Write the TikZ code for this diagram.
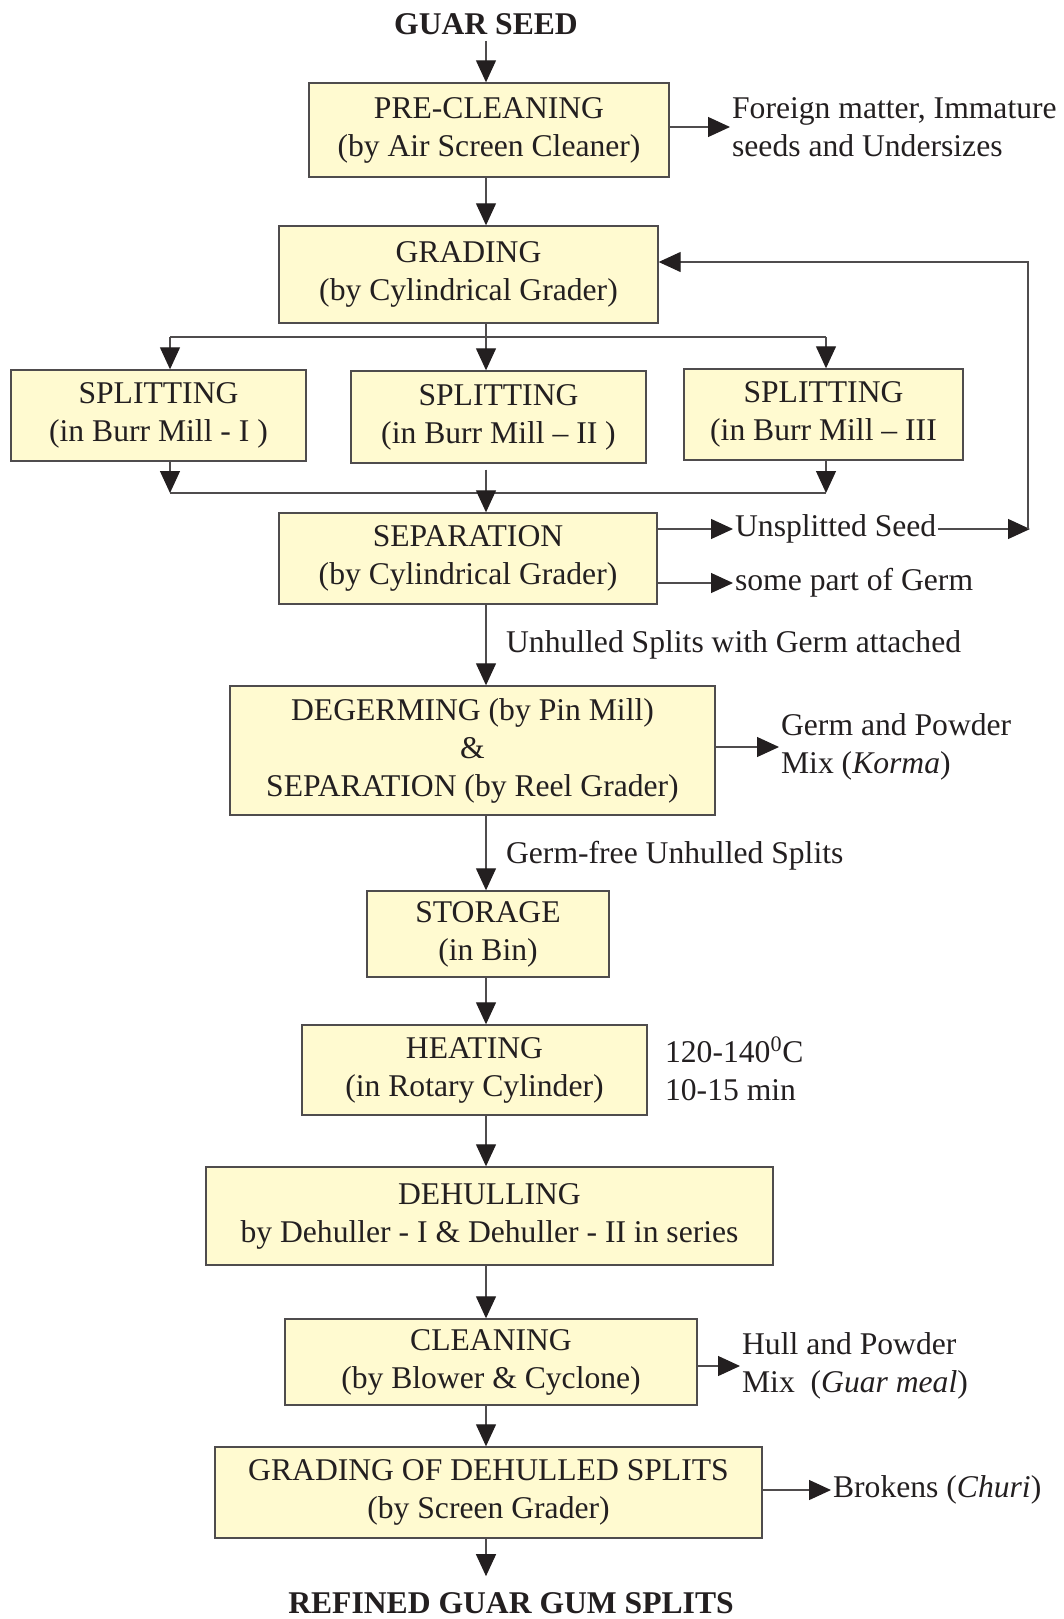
\documentclass[tikz,border=0pt]{standalone}
\usepackage{fontspec}
\setmainfont{Liberation Serif}
\usetikzlibrary{arrows.meta}
\definecolor{boxfill}{RGB}{255,250,208}
\definecolor{ink}{RGB}{35,31,32}

\begin{document}
\begin{tikzpicture}[x = 0.02cm, y = -0.02cm,
                    font = \fontsize{18}{21.6}\selectfont, text = ink,
                    stage/.style = {rectangle, draw = ink!80, line width = 0.8pt, fill = boxfill, align = center, inner sep = 0pt},
                    side/.style = {anchor = west, align = left, inner sep = 1pt},
                    ln/.style = {draw = ink!80, line width = 0.7pt},
                    arr/.style = {ln, -{Triangle[length = 0.44cm, width = 0.4cm, color = ink]}}]

\useasboundingbox (0,0) rectangle (1063,1619);

% main line
\coordinate (spine) at (486,0);
\coordinate (lft) at (170,0);
\coordinate (rgt) at (826,0);
\coordinate (fork) at (486,337);
\coordinate (join) at (486,493);

\node [font = \fontsize{18}{21.6}\selectfont\bfseries] (seed) at (486,24) {GUAR SEED};

\node [stage, minimum width = 7.2cm, minimum height = 1.88cm] (pre) at (489,130) {PRE-CLEANING\\(by Air Screen Cleaner)};
\node [stage, minimum width = 7.58cm, minimum height = 1.94cm] (grade) at (468.5,274.5) {GRADING\\(by Cylindrical Grader)};
\node [stage, minimum width = 5.9cm, minimum height = 1.82cm] (split1) at (158.5,415.5) {SPLITTING\\(in Burr Mill - I )};
\node [stage, minimum width = 5.9cm, minimum height = 1.84cm] (split2) at (498.5,417) {SPLITTING\\(in Burr Mill -- II )};
\node [stage, minimum width = 5.58cm, minimum height = 1.82cm] (split3) at (823.5,414.5) {SPLITTING\\(in Burr Mill -- III};
\node [stage, minimum width = 7.56cm, minimum height = 1.82cm] (sep) at (468,558.5) {SEPARATION\\(by Cylindrical Grader)};
\node [stage, minimum width = 9.7cm, minimum height = 2.58cm] (degerm) at (472.5,750.5) {DEGERMING (by Pin Mill)\\\&\\SEPARATION (by Reel Grader)};
\node [stage, minimum width = 4.84cm, minimum height = 1.72cm] (store) at (488,934) {STORAGE\\(in Bin)};
\node [stage, minimum width = 6.9cm, minimum height = 1.8cm] (heat) at (474.5,1070) {HEATING\\(in Rotary Cylinder)};
\node [stage, minimum width = 11.34cm, minimum height = 1.96cm] (dehull) at (489.5,1216) {DEHULLING\\by Dehuller - I \& Dehuller - II in series};
\node [stage, minimum width = 8.24cm, minimum height = 1.72cm] (clean) at (491,1362) {CLEANING\\(by Blower \& Cyclone)};
\node [stage, minimum width = 10.94cm, minimum height = 1.82cm] (gds) at (488.5,1492.5) {GRADING OF DEHULLED SPLITS\\(by Screen Grader)};

\node [font = \fontsize{18}{21.6}\selectfont\bfseries] (refined) at (511,1603) {REFINED GUAR GUM SPLITS};

% side streams
\node [side] (waste) at (730,127) {Foreign matter, Immature\\seeds and Undersizes};
\node [side] (unspl) at (733,529) {Unsplitted Seed};
\node [side] (germ) at (733,583) {some part of Germ};
\node [side] (korma) at (779,747) {Germ and Powder\\Mix (\textit{Korma})};
\node [side] (heatcond) at (663,1069) {120-140\textsuperscript{0}C\\10-15 min};
\node [side] (hull) at (740,1366) {Hull and Powder\\Mix\ \ (\textit{Guar meal})};
\node [side] (brokens) at (831,1490) {Brokens (\textit{Churi})};

% flow labels
\node [side] (unhulled) at (504,645) {Unhulled Splits with Germ attached};
\node [side] (germfree) at (504,856) {Germ-free Unhulled Splits};

\draw [arr] (seed.south) -- (pre.north -| spine);
\draw [arr] (pre.south -| spine) -- (grade.north -| spine);
\draw [arr] (pre.east |- waste.west) -- (waste.west);

% to the mills
\draw [ln] (grade.south -| spine) -- (fork);
\draw [ln] (lft |- fork) -- (rgt |- fork);
\draw [arr] (lft |- fork) -- (split1.north -| lft);
\draw [arr] (fork) -- (split2.north -| spine);
\draw [arr] (rgt |- fork) -- (split3.north -| rgt);

% from the mills
\draw [arr] (split1.south -| lft) -- (lft |- join);
\draw [arr] (split3.south -| rgt) -- (rgt |- join);
\draw [ln] (lft |- join) -- (rgt |- join);
\draw [arr] ([yshift = -0.12cm] split2.south -| spine) -- (sep.north -| spine);

% recycle
\coordinate (loop) at (1030,529);
\coordinate (looptop) at (1028,262);
\draw [arr] (sep.east |- unspl.west) -- (unspl.west);
\draw [arr] (unspl.east) -- (loop);
\draw [arr] (looptop |- loop) -- (looptop) -- (grade.east |- looptop);
\draw [arr] (sep.east |- germ.west) -- (germ.west);

\draw [arr] (sep.south -| spine) -- (degerm.north -| spine);
\draw [arr] (degerm.east |- korma.west) -- (korma.west);
\draw [arr] (degerm.south -| spine) -- (store.north -| spine);
\draw [arr] (store.south -| spine) -- (heat.north -| spine);
\draw [arr] (heat.south -| spine) -- (dehull.north -| spine);
\draw [arr] (dehull.south -| spine) -- (clean.north -| spine);
\draw [arr] (clean.east |- hull.west) -- (hull.west);
\draw [arr] (clean.south -| spine) -- (gds.north -| spine);
\draw [arr] (gds.east |- brokens.west) -- (brokens.west);
\draw [arr] (gds.south -| spine) -- ([yshift = 0.2cm] refined.north -| spine);
\end{tikzpicture}
\end{document}
